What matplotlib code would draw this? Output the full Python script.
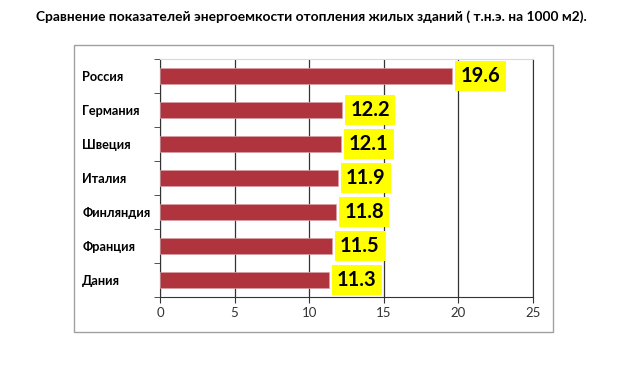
import matplotlib
matplotlib.use("Agg")
import matplotlib.pyplot as plt
from matplotlib.patches import Rectangle
import numpy as np

countries = ["Россия", "Германия", "Швеция", "Италия", "Финляндия", "Франция", "Дания"]
values = [19.6, 12.2, 12.1, 11.9, 11.8, 11.5, 11.3]
xticks = [0, 5, 10, 15, 20, 25]

plt.rcParams['font.family'] = ['Lato', 'DejaVu Sans']

fig = plt.figure(figsize=(6.4, 3.75), dpi=100)

# outer chart frame
fig.patches.append(Rectangle((74 / 640, 1 - 332 / 375), (553 - 74) / 640, (332 - 45) / 375,
                             transform=fig.transFigure, fill=False, edgecolor='#a0a0a0', lw=1))

fig.text(0.487, 0.955, "Сравнение показателей энергоемкости отопления жилых зданий ( т.н.э. на 1000 м2).",
         ha='center', va='center', fontsize=9.9, fontweight='bold')

ax = fig.add_axes([160 / 640, 1 - 297 / 375, (533 - 160) / 640, (297 - 59) / 375])

y = np.arange(len(countries))
ax.barh(y, values, height=0.48, color='#b0343e', edgecolor='#d8a0a4', lw=0.5, zorder=3)

for yi, v in zip(y, values):
    ax.text(v + 0.55, yi, f"{v}", ha='left', va='center', fontsize=14.5, fontweight='bold',
            bbox=dict(boxstyle='square,pad=0.26', facecolor='#ffff00', edgecolor='none'), zorder=4)

ax.set_xlim(0, 25)
ax.set_ylim(len(countries) - 0.5, -0.5)
ax.set_xticks(xticks)
ax.set_xticklabels([str(t) for t in xticks], fontsize=9.5, color='#333333')
ax.set_yticks(y)
ax.set_yticklabels(countries, fontsize=9.2, fontweight='bold')
ax.set_yticks(np.arange(len(countries) + 1) - 0.5, minor=True)
ax.tick_params(axis='y', which='major', length=0, pad=56)
for lab in ax.get_yticklabels():
    lab.set_horizontalalignment('left')
ax.tick_params(axis='y', which='minor', length=4, direction='out', color='#333333')
ax.tick_params(axis='x', length=4, direction='out', color='#333333', pad=3)

ax.grid(axis='x', color='#333333', lw=0.9, zorder=0)
ax.spines['top'].set_color('#d9d9d9')
ax.spines['right'].set_color('#333333')
ax.spines['left'].set_color('#333333')
ax.spines['bottom'].set_color('#333333')

fig.savefig("out.png", dpi=100)
